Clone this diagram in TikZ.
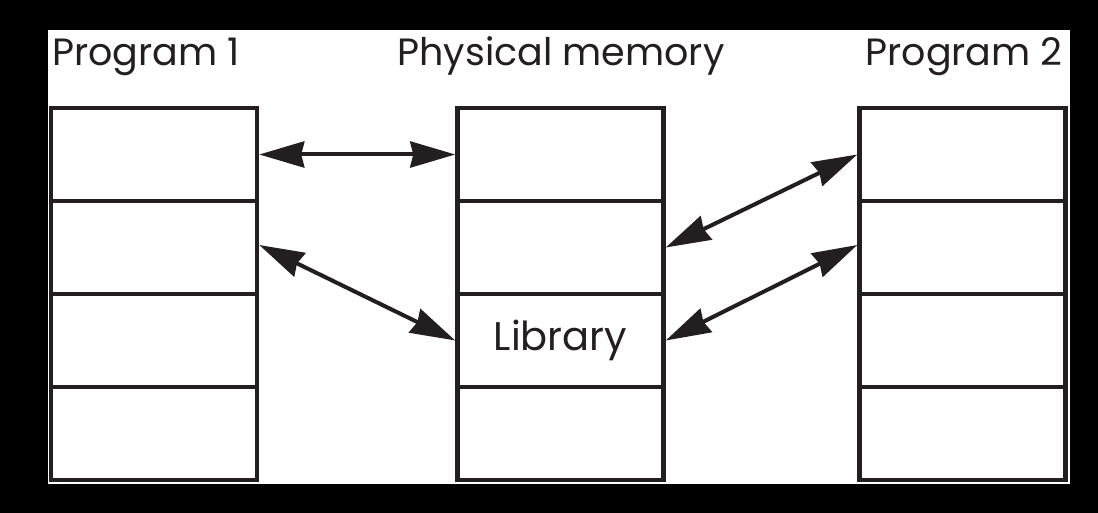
\documentclass[tikz,border=0pt]{standalone}
\usepackage{fontspec}
\setmainfont{Poppins}
\usetikzlibrary{arrows.meta}
\definecolor{ink}{HTML}{231F20}
\begin{document}
\begin{tikzpicture}[x=1pt,y=-1pt,
  cell/.style={draw=ink,line width=4.5pt,minimum width=206pt,minimum height=93pt,inner sep=0pt,fill=white,font=\fontsize{40}{44}\selectfont,text=ink},
  lbl/.style={font=\fontsize{38}{42}\selectfont,text=ink,inner sep=0pt},
  conn/.style={draw=ink,line width=4pt,{Stealth[length=45pt,width=26pt,inset=3pt]}-{Stealth[length=45pt,width=26pt,inset=3pt]}}]
\useasboundingbox (0,0) rectangle (1098,513);
\fill[black] (0,0) rectangle (1098,513);
\fill[white] (48,30) rectangle (1070,484);
% columns
\foreach \r/\y in {1/154.5,2/247.5,3/340.5,4/433.5}{
  \node[cell] (pa\r) at (154,\y) {};
  \node[cell] (pb\r) at (962.5,\y) {};
}
\node[cell] (m1) at (560.5,154.5) {};
\node[cell] (m2) at (560.5,247.5) {};
\node[cell] (m3) at (560.5,340.5) {Library};
\node[cell] (m4) at (560.5,433.5) {};
% labels
\node[lbl,anchor=base west] (l1) at (52,66) {Program 1};
\node[lbl,anchor=base] (l2) at (561,66) {Physical memory};
\node[lbl,anchor=base east] (l3) at (1063,66) {Program 2};
% connectors
\draw[conn] (pa1.east) -- (m1.west);
\draw[conn] ([yshift=2.5pt]pa2.east) -- (m3.west);
\draw[conn] (m2.east) -- (pb1.west);
\draw[conn] (m3.east) -- ([yshift=2.5pt]pb2.west);
\end{tikzpicture}
\end{document}
